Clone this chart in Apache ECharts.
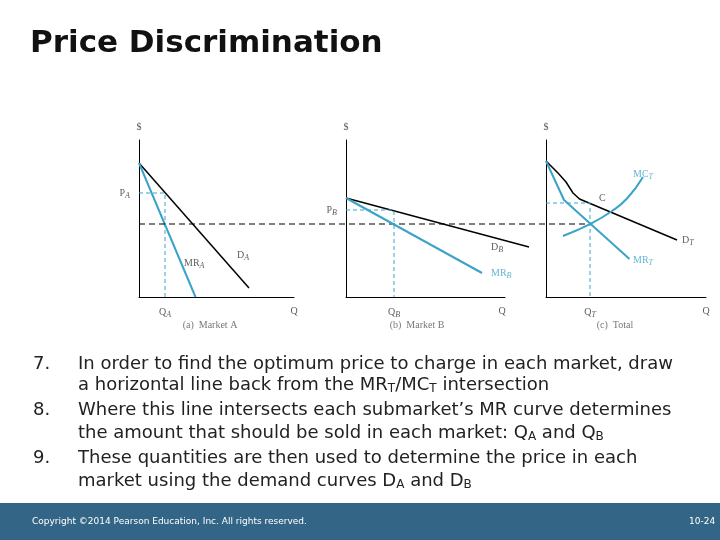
<!DOCTYPE html><html><head><meta charset="utf-8">
<script src="https://cdn.jsdelivr.net/npm/echarts@6/dist/echarts.min.js"></script>
<style>body{margin:0}#c{width:720px;height:540px}</style></head><body><div id="c"></div>
<script>
// Panel A
const dA=[[0,134],[110,9]], mrA=[[0,134],[56.5,0]], pA=104, qA=26;
// Panel B (x measured from panel B origin)
const dB=[[0,99],[183,50]], mrB=[[0,99],[136,24]], pB=87, qB=48;
// Panel C
const dT=[[0,136],[12,124],[20,115],[27,104],[33.5,98],[131,57]];
const mrT=[[0,136],[18,97],[83.5,38]];
const mcT=[[17,61],[45,73.4],[66,86],[81.5,99],[97,120]];
const pC=94, qT=44, mrLevel=73;
const offB=207, dashEnd=451;
const teal='#3aa3c8';
const ch=echarts.init(document.getElementById('c'));
const sub={fontSize:8,padding:[5,0,0,0],fontFamily:'Liberation Serif',fontStyle:'italic'};
function grid(l,w){return {left:l,top:140,width:w,height:157};}
function xa(i,max,show){return {gridIndex:i,type:'value',min:0,max:max,axisLine:{show:show,onZero:false,lineStyle:{color:'#000',width:1}},axisTick:{show:false},axisLabel:{show:false},splitLine:{show:false}};}
function ya(i,show){return {gridIndex:i,type:'value',min:0,max:157,axisLine:{show:show,lineStyle:{color:'#000',width:1}},axisTick:{show:false},axisLabel:{show:false},splitLine:{show:false}};}
function line(i,data,color,w,type){return {type:'line',xAxisIndex:i,yAxisIndex:i,data:data,symbol:'none',clip:false,silent:true,lineStyle:{color:color,width:w,type:type||'solid'},smooth:false,z:3};}
function txt(i,pts){return {type:'scatter',xAxisIndex:i,yAxisIndex:i,symbolSize:0,clip:false,silent:true,data:pts.map(p=>({value:[p[0],p[1]],label:{show:true,formatter:p[2],position:p[3]||'inside',color:p[4]||'#333',fontFamily:'Liberation Serif',fontSize:10,rich:{s:sub}}}))};}
const series=[
 line(0,dA,'#000',1.5), line(0,mrA,teal,2),
 line(0,[[0,pA],[qA,pA],[qA,0]],teal,1,[4,3]),
 line(3,[[0,mrLevel],[dashEnd,mrLevel]],'#000',1.2,[6,4]),
 line(3,dB.map(p=>[p[0]+offB,p[1]]),'#000',1.3), line(1,mrB,teal,2),
 line(1,[[0,pB],[qB,pB],[qB,0]],teal,1,[4,3]),
 line(2,dT,'#000',1.5), line(2,mrT,teal,2),
 {...line(2,mcT,teal,2),smooth:true},
 line(2,[[0,pC],[qT,pC],[qT,0]],teal,1,[4,3]),
 txt(0,[[0,160,'$','top'],[-4,pA,'P{s|A}','left'],[qA,-4,'Q{s|A}','bottom'],[155,-4,'Q','bottom'],[93,42,'D{s|A}','right'],[40,34,'MR{s|A}','right'],[71,-18,'(a)  Market A','bottom','#555']]),
 txt(1,[[0,160,'$','top'],[-4,pB,'P{s|B}','left'],[qB,-4,'Q{s|B}','bottom'],[156,-4,'Q','bottom'],[140,50,'D{s|B}','right'],[140,24,'MR{s|B}','right',teal],[71,-18,'(b)  Market B','bottom','#555']]),
 txt(2,[[0,160,'$','top'],[48,99,'C','right'],[qT,-4,'Q{s|T}','bottom'],[160,-4,'Q','bottom'],[82,123,'MC{s|T}','right',teal],[131,57,'D{s|T}','right'],[82,37,'MR{s|T}','right',teal],[69,-18,'(c)  Total','bottom','#555']])
];
const tf='DejaVu Sans';
const r={s:{fontSize:12,padding:[7,0,0,0],fontFamily:tf,fill:'#222'}};
function T(x,y,t){return {type:'text',left:x,top:y,style:{text:t,font:'18px "DejaVu Sans"',fill:'#222',rich:r}};}
ch.setOption({
 animation:false,backgroundColor:'#fff',
 grid:[grid(139,155),grid(346,159),grid(546,160),grid(139,451)],
 xAxis:[xa(0,155,true),xa(1,159,true),xa(2,160,true),xa(3,451,false)], yAxis:[ya(0,true),ya(1,true),ya(2,true),ya(3,false)],
 series:series,
 graphic:[
  {type:'text',left:30,top:28,style:{text:'Price Discrimination',font:'bold 31px "DejaVu Sans"',fill:'#111'}},
  T(33,355,'7.'),T(78,355,'In order to find the optimum price to charge in each market, draw'),
  T(78,376,'a horizontal line back from the MR{s|T}/MC{s|T} intersection'),
  T(33,401,'8.'),T(78,401,'Where this line intersects each submarket’s MR curve determines'),
  T(78,424,'the amount that should be sold in each market: Q{s|A} and Q{s|B}'),
  T(33,449,'9.'),T(78,449,'These quantities are then used to determine the price in each'),
  T(78,472,'market using the demand curves D{s|A} and D{s|B}'),
  {type:'rect',left:0,top:503,shape:{width:720,height:37},style:{fill:'#336686'}},
  {type:'text',left:32,top:517,style:{text:'Copyright ©2014 Pearson Education, Inc. All rights reserved.',font:'9px "DejaVu Sans"',fill:'#fff'}},
  {type:'text',left:689,top:517,style:{text:'10-24',font:'9px "DejaVu Sans"',fill:'#fff'}}
 ]
});
</script></body></html>
